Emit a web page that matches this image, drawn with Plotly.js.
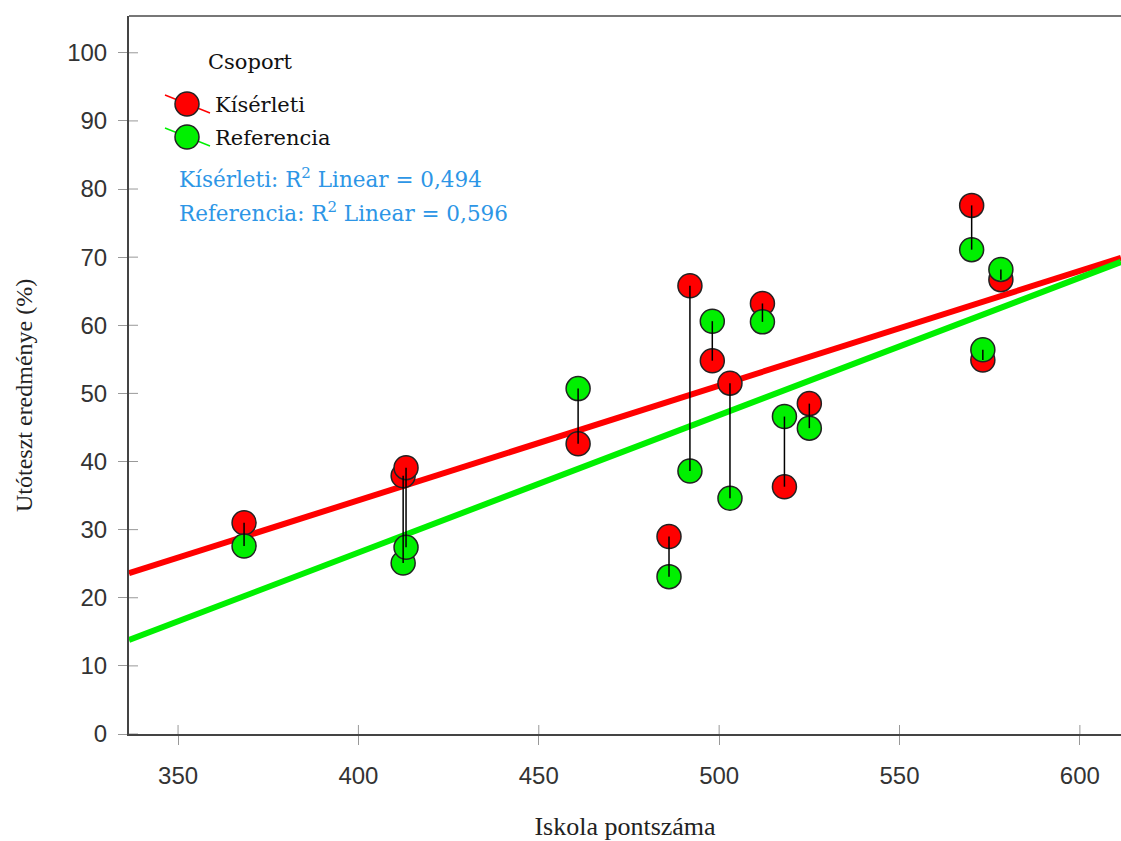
<!DOCTYPE html>
<html>
<head>
<meta charset="utf-8">
<script src="https://cdn.plot.ly/plotly-3.0.1.min.js"></script>
<style>html,body{margin:0;padding:0;background:#fff;}#chart{width:1121px;height:841px;}</style>
</head>
<body>
<div id="chart"></div>
<script>
// Data
const schoolScore = [368.3, 412.4, 413.2, 460.9, 486.1, 491.9, 498.1, 503.0, 512.0, 518.1, 525.0, 570.0, 573.1, 578.1];
const kiserleti   = [31.0, 37.9, 39.1, 42.6, 29.0, 65.8, 54.8, 51.5, 63.2, 36.3, 48.5, 77.6, 54.9, 66.7];
const referencia  = [27.6, 25.1, 27.4, 50.7, 23.1, 38.6, 60.6, 34.6, 60.5, 46.6, 44.9, 71.1, 56.4, 68.2];
const fitX        = [336.4, 611.4];
const kiserletiFit  = [23.6, 69.9];
const referenciaFit = [13.8, 69.3];
const groupNames  = ["Kísérleti", "Referencia"];
const legendTitle = "Csoport";
const r2Labels    = ["Kísérleti: R<sup>2</sup> Linear = 0,494", "Referencia: R<sup>2</sup> Linear = 0,596"];
const xTitle = "Iskola pontszáma";
const yTitle = "Utóteszt eredménye (%)";
const xTicks = [350, 400, 450, 500, 550, 600];
const yTicks = [0, 10, 20, 30, 40, 50, 60, 70, 80, 90, 100];

const RED = "#ff0000", GREEN = "#00f000", BLUE = "#2d96e6";
const groupColors = [RED, GREEN];

// plot-area geometry helpers (pixels -> paper)
const L = 129, T = 16, W = 992, H = 718;
const px = v => (v - L) / W;
const py = v => (T + H - v) / H;

// connector segments built from the data
const cx = [], cy = [];
schoolScore.forEach((x, i) => { cx.push(x, x, null); cy.push(kiserleti[i], referencia[i], null); });

const traces = [
  {x: fitX, y: kiserletiFit, mode: "lines", line: {color: RED, width: 6}, showlegend: false, hoverinfo: "skip"},
  {x: fitX, y: referenciaFit, mode: "lines", line: {color: GREEN, width: 6}, showlegend: false, hoverinfo: "skip"},
  {x: schoolScore, y: kiserleti, mode: "markers", name: groupNames[0], showlegend: false,
   marker: {size: 24, color: RED, line: {color: "#222", width: 1.5}}},
  {x: schoolScore, y: referencia, mode: "markers", name: groupNames[1], showlegend: false,
   marker: {size: 24, color: GREEN, line: {color: "#222", width: 1.5}}},
  {x: cx, y: cy, mode: "lines", line: {color: "#000", width: 1.5}, showlegend: false, hoverinfo: "skip"}
];

const shapes = [
  {type: "line", xref: "paper", yref: "paper", x0: 0, x1: 1, y0: 1, y1: 1, line: {color: "#777", width: 2}}
];
// inner halves of the tick marks (ticks cross the axis line in the reference)
xTicks.forEach(t => shapes.push({type: "line", xref: "x", yref: "paper", ysizemode: "pixel", yanchor: 0,
  x0: t, x1: t, y0: 0, y1: 9, line: {color: "#999", width: 1}}));
yTicks.forEach(t => shapes.push({type: "line", xref: "paper", yref: "y", xsizemode: "pixel", xanchor: 0,
  y0: t, y1: t, x0: 0, x1: 9, line: {color: "#999", width: 1}}));

// manual legend (large symbols with a diagonal line, like the reference)
const annotations = [
  {text: legendTitle, xref: "paper", yref: "paper", x: px(206), y: py(62),
   xanchor: "left", yanchor: "middle", showarrow: false, font: {family: "DejaVu Serif", size: 21, color: "#111"}},
  {text: yTitle, xref: "paper", yref: "paper", x: px(24), y: py(396), textangle: -90,
   xanchor: "center", yanchor: "middle", showarrow: false, font: {family: "Liberation Serif", size: 24, color: "#222"}}
];
groupNames.forEach((name, i) => {
  const cyPx = 104 + i * 33;
  shapes.push({type: "line", xref: "paper", yref: "paper", xsizemode: "pixel", ysizemode: "pixel",
    xanchor: px(187), yanchor: py(cyPx), x0: -22, x1: 23, y0: 9, y1: -9,
    line: {color: groupColors[i], width: 1.5}});
  shapes.push({type: "circle", xref: "paper", yref: "paper", xsizemode: "pixel", ysizemode: "pixel",
    xanchor: px(187), yanchor: py(cyPx), x0: -12, x1: 12, y0: -12, y1: 12,
    fillcolor: groupColors[i], line: {color: "#222", width: 1.5}});
  annotations.push({text: name, xref: "paper", yref: "paper", x: px(213), y: py(cyPx + 1),
    xanchor: "left", yanchor: "middle", showarrow: false, font: {family: "DejaVu Serif", size: 21, color: "#111"}});
});
r2Labels.forEach((t, i) => {
  annotations.push({text: t, xref: "paper", yref: "paper", x: px(177), y: py(178 + i * 34),
    xanchor: "left", yanchor: "middle", showarrow: false, font: {family: "DejaVu Serif", size: 21.5, color: BLUE}});
});

const layout = {
  width: 1121, height: 841,
  margin: {l: L, r: 0, t: T, b: 841 - T - H},
  paper_bgcolor: "#fff", plot_bgcolor: "#fff",
  showlegend: false,
  xaxis: {range: [336.4, 611.4], tickvals: xTicks, ticktext: xTicks.map(String),
          showgrid: false, zeroline: false, showline: true, linecolor: "#444", linewidth: 2,
          ticks: "outside", ticklen: 9, tickcolor: "#999", tickwidth: 1, ticklabelstandoff: 10,
          tickfont: {family: "Liberation Sans", size: 24, color: "#333"},
          title: {text: xTitle, font: {family: "Liberation Serif", size: 26, color: "#222"}, standoff: 30}},
  yaxis: {range: [0, 105.4], tickvals: yTicks, ticktext: yTicks.map(String),
          showgrid: false, zeroline: false, showline: true, linecolor: "#444", linewidth: 2,
          ticks: "outside", ticklen: 9, tickcolor: "#999", tickwidth: 1, ticklabelstandoff: 6,
          tickfont: {family: "Liberation Sans", size: 24, color: "#333"}},
  shapes: shapes,
  annotations: annotations
};

Plotly.newPlot("chart", traces, layout, {displayModeBar: false, staticPlot: true});
</script>
</body>
</html>
